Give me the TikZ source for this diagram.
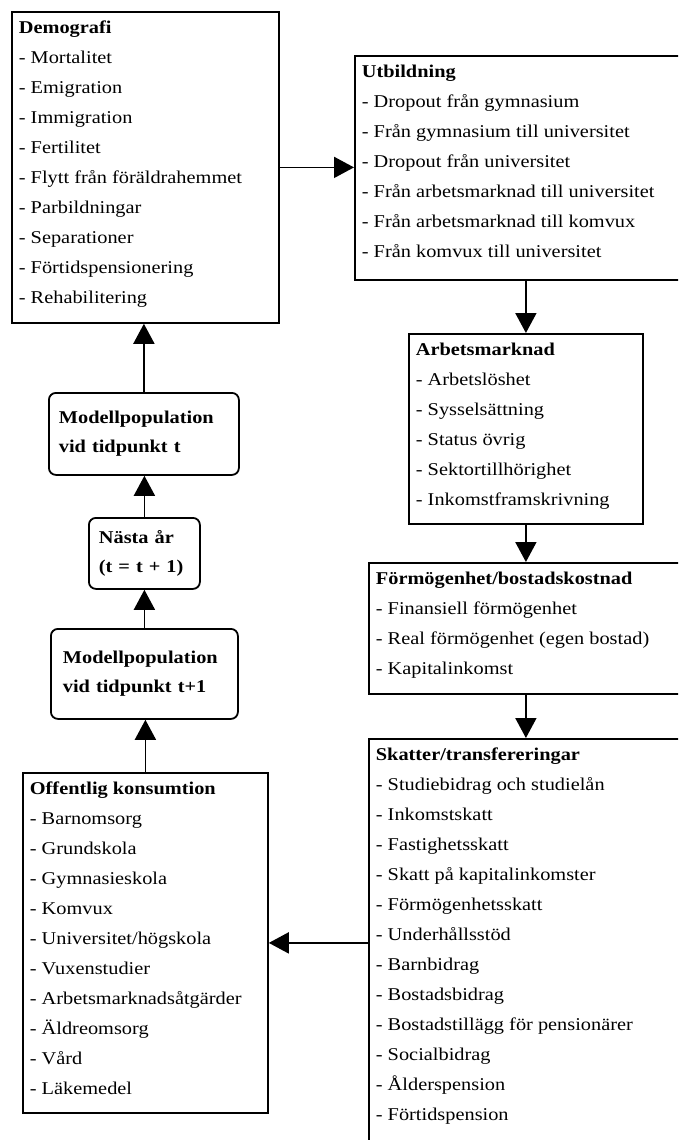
\documentclass[tikz,border=0pt]{standalone}
\usepackage{fontspec}
\setmainfont[FakeStretch=1.13]{Liberation Serif}
\usetikzlibrary{arrows.meta,calc,positioning}

% box body: width, height, text
\newcommand{\listbody}[3]{\parbox[t][#2][t]{#1}{\raggedright\fontsize{18}{30}\selectfont\vspace*{1pt}\strut #3}}

\tikzset{
  blk/.style={draw, line width=1.8pt, anchor=north west, inner xsep=7pt, inner ysep=0pt},
  rbox/.style={draw, line width=1.8pt, rounded corners=7pt, anchor=north west, align=left,
    font=\fontsize{18}{29}\selectfont\bfseries, inner ysep=0pt},
  flow/.style={line width=1.8pt, -{Triangle[length=20pt,width=21pt]}}
}

\begin{document}
\begin{tikzpicture}[x=1pt,y=-1pt]
  \useasboundingbox (0,0) rectangle (678,1140);
  \clip (0,0) rectangle (678,1140);

  % left column
  \node[blk] (dem) at (11,11) {\listbody{253pt}{311pt}{\textbf{Demografi}\\
    - Mortalitet\\ - Emigration\\ - Immigration\\ - Fertilitet\\
    - Flytt från föräldrahemmet\\ - Parbildningar\\ - Separationer\\
    - Förtidspensionering\\ - Rehabilitering}};
  \node[rbox, inner xsep=10pt, text width=170pt, minimum height=82pt] (mt) at (48,392)
    {Modellpopulation\\ vid tidpunkt t};
  \node[rbox, inner xsep=10pt, text width=91pt, minimum height=71pt] (nasta) at (88,517)
    {Nästa år\\ (t = t + 1)};
  \node[rbox, inner xsep=12pt, text width=163pt, minimum height=90pt] (mt1) at (50,628)
    {Modellpopulation\\ vid tidpunkt t+1};
  \node[blk] (off) at (22,772) {\listbody{231pt}{340pt}{\textbf{Offentlig konsumtion}\\
    - Barnomsorg\\ - Grundskola\\ - Gymnasieskola\\ - Komvux\\
    - Universitet/högskola\\ - Vuxenstudier\\ - Arbetsmarknadsåtgärder\\
    - Äldreomsorg\\ - Vård\\ - Läkemedel}};

  % right column
  \node[blk] (utb) at (354,55) {\listbody{332pt}{224pt}{\textbf{Utbildning}\\
    - Dropout från gymnasium\\ - Från gymnasium till universitet\\
    - Dropout från universitet\\ - Från arbetsmarknad till universitet\\
    - Från arbetsmarknad till komvux\\ - Från komvux till universitet}};
  \node[blk] (arb) at (408,333) {\listbody{220pt}{190pt}{\textbf{Arbetsmarknad}\\
    - Arbetslöshet\\ - Sysselsättning\\ - Status övrig\\
    - Sektortillhörighet\\ - Inkomstframskrivning}};
  \node[blk] (form) at (368,562) {\listbody{318pt}{131pt}{\textbf{Förmögenhet/bostadskostnad}\\
    - Finansiell förmögenhet\\ - Real förmögenhet (egen bostad)\\ - Kapitalinkomst}};
  \node[blk] (skatt) at (368,738) {\listbody{318pt}{422pt}{\textbf{Skatter/transfereringar}\\
    - Studiebidrag och studielån\\ - Inkomstskatt\\ - Fastighetsskatt\\
    - Skatt på kapitalinkomster\\ - Förmögenhetsskatt\\ - Underhållsstöd\\
    - Barnbidrag\\ - Bostadsbidrag\\ - Bostadstillägg för pensionärer\\
    - Socialbidrag\\ - Ålderspension\\ - Förtidspension}};

  % connectors
  \draw[flow] (dem.east) -- (dem.east -| utb.west);
  \draw[flow] (arb.north |- utb.south) -- (arb.north);
  \draw[flow] (arb.south) -- (arb.south |- form.north);
  \draw[flow] (arb.south |- form.south) -- (arb.south |- skatt.north);
  \draw[flow] (off.east -| skatt.west) -- (off.east);
  \draw[flow] (off.north) -- (off.north |- mt1.south);
  \draw[flow] (mt1.north) -- (mt1.north |- nasta.south);
  \draw[flow] (nasta.north) -- (nasta.north |- mt.south);
  \draw[flow] (mt.north) -- (mt.north |- dem.south);
\end{tikzpicture}
\end{document}
